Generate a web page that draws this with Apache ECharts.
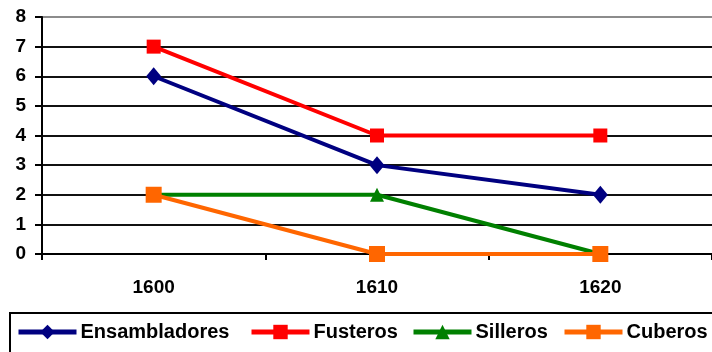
<!DOCTYPE html>
<html>
<head>
<meta charset="utf-8">
<script src="https://cdn.jsdelivr.net/npm/echarts@6/dist/echarts.min.js"></script>
<style>
  html, body { margin: 0; padding: 0; background: #fff; }
  #chart { width: 712px; height: 352px; }
</style>
</head>
<body>
<div id="chart"></div>
<script>
// Decades on the category axis
const years = ['1600', '1610', '1620'];

// Number of craftsmen per trade
const ensambladores = [6, 3, 2];
const fusteros = [7, 4, 4];
const silleros = [2, 2, 0];
const cuberos = [2, 0, 0];

const yTicks = [0, 1, 2, 3, 4, 5, 6, 7, 8];

const trades = ['Ensambladores', 'Fusteros', 'Silleros', 'Cuberos'];
const legendLefts = [16, 249, 411, 562];

const FONT = 'Liberation Sans, Arial, sans-serif';

function lineSeries(name, data, color, symbol, size) {
  return {
    name: name,
    type: 'line',
    data: data,
    symbol: symbol,
    symbolSize: size,
    showSymbol: true,
    lineStyle: { color: color, width: 4 },
    itemStyle: { color: color, borderWidth: 0 },
    emphasis: { disabled: true },
    animation: false
  };
}

// One legend block per trade, laid out across the boxed strip at the bottom
const legends = trades.map((t, i) => ({
  show: true,
  left: legendLefts[i],
  top: 322,
  padding: 0,
  itemWidth: 58,
  itemHeight: 18,
  itemGap: 4,
  lineStyle: { width: 5 },
  textStyle: { color: '#000', fontFamily: FONT, fontWeight: 'bold', fontSize: 20, padding: [0, 0, 0, -1] },
  data: [t]
}));

const chart = echarts.init(document.getElementById('chart'), null, { renderer: 'canvas' });

chart.setOption({
  backgroundColor: '#ffffff',
  animation: false,
  grid: { left: 42, right: 0, top: 17, bottom: 98, containLabel: false },
  xAxis: {
    type: 'category',
    data: years,
    boundaryGap: true,
    axisLine: { lineStyle: { color: '#000', width: 2 } },
    axisTick: { show: true, length: 6, lineStyle: { color: '#000', width: 2 } },
    axisLabel: { color: '#000', fontFamily: FONT, fontWeight: 'bold', fontSize: 19, margin: 24 },
    splitLine: { show: false }
  },
  yAxis: {
    type: 'value',
    min: yTicks[0],
    max: yTicks[yTicks.length - 1],
    interval: 1,
    axisLine: { show: true, lineStyle: { color: '#000', width: 2 } },
    axisTick: { show: true, length: 7, lineStyle: { color: '#000', width: 2 } },
    axisLabel: { color: '#000', fontFamily: FONT, fontWeight: 'bold', fontSize: 19, margin: 16 },
    splitLine: {
      show: true,
      lineStyle: {
        color: ['#111', '#111', '#111', '#111', '#111', '#111', '#111', '#111', '#8c8c8c'],
        width: 2
      }
    }
  },
  legend: legends,
  graphic: [{
    type: 'rect',
    shape: { x: 10, y: 313, width: 720, height: 60 },
    style: { fill: 'none', stroke: '#000', lineWidth: 2 },
    silent: true,
    z: -1
  }],
  series: [
    lineSeries('Ensambladores', ensambladores, '#000080', 'diamond', [15, 18]),
    lineSeries('Fusteros', fusteros, '#ff0000', 'rect', 14),
    lineSeries('Silleros', silleros, '#008000', 'triangle', 14),
    lineSeries('Cuberos', cuberos, '#ff6600', 'rect', 16)
  ]
});
</script>
</body>
</html>
